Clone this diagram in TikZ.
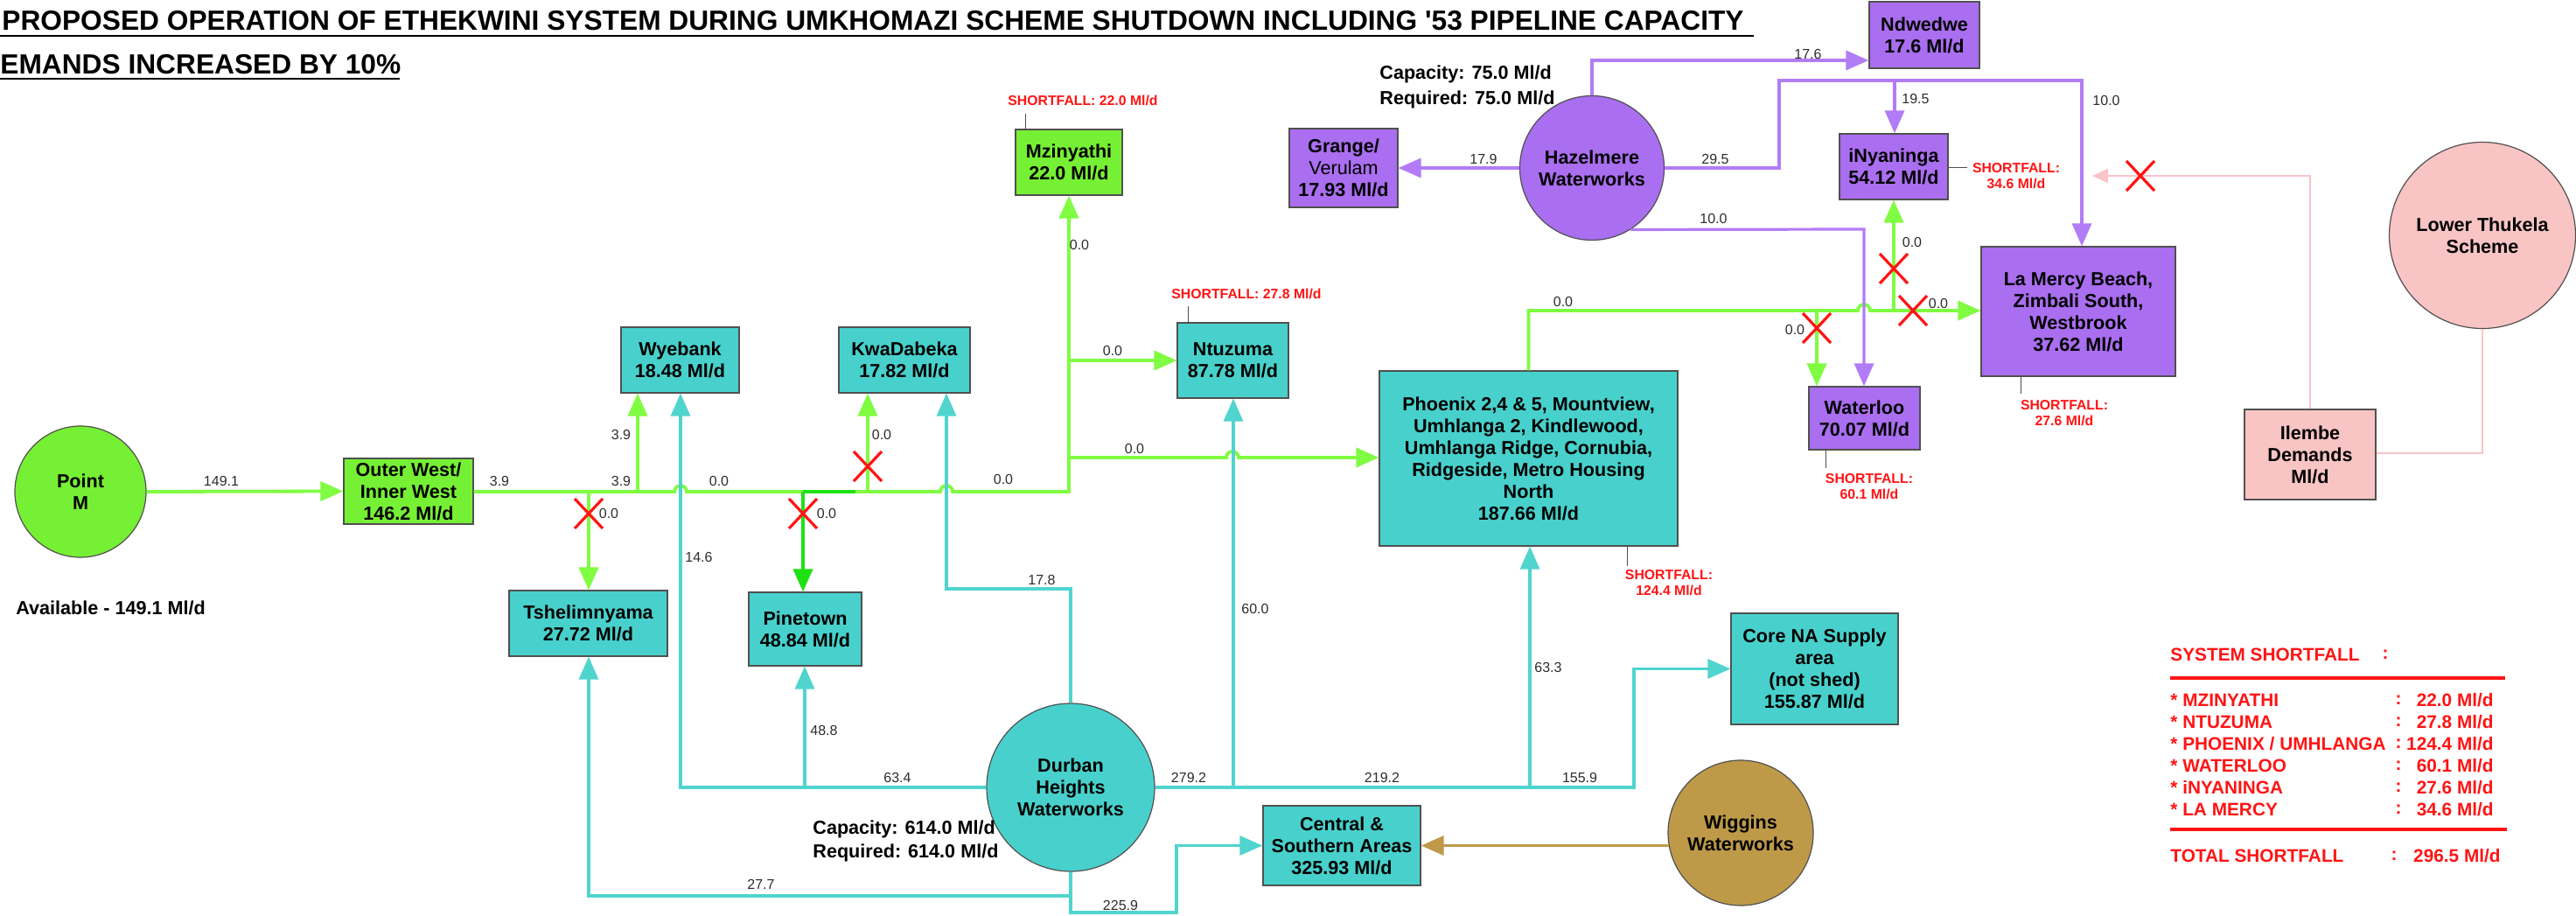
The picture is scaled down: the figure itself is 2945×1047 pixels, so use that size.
\documentclass[tikz,border=0pt]{standalone}
\usepackage{fontspec}
\setmainfont{Liberation Sans}
\usetikzlibrary{arrows.meta}

\definecolor{lgreen}{RGB}{118,240,52}
\definecolor{lgreenl}{RGB}{128,252,66}
\definecolor{dgreen}{RGB}{30,225,20}
\definecolor{tealf}{RGB}{72,209,204}
\definecolor{tealc}{RGB}{80,212,206}
\definecolor{purpf}{RGB}{170,110,240}
\definecolor{purpc}{RGB}{178,124,246}
\definecolor{pinkf}{RGB}{248,196,196}
\definecolor{pinkc}{RGB}{250,196,200}
\definecolor{goldc}{RGB}{190,154,72}
\definecolor{redc}{RGB}{255,20,20}
\definecolor{edge}{RGB}{80,80,80}
\definecolor{numc}{RGB}{45,45,45}

\newcommand\bxfont{\fontsize{10.8}{12.5}\selectfont\bfseries}
\newcommand\lblfont{\fontsize{8}{9}\selectfont}
\newcommand\sfallfont{\fontsize{7.9}{9.3}\selectfont\bfseries}
\newcommand\sysfont{\fontsize{10.4}{12.5}\selectfont\bfseries}
\newcommand\ttlfont{\fontsize{15.85}{19}\selectfont\bfseries}

\begin{document}
\begin{tikzpicture}[x=0.5pt,y=-0.5pt,
  tbox/.style={draw=edge,line width=0.6pt,inner sep=0pt,align=center,font=\bxfont},
  greenbox/.style={tbox,fill=lgreen},
  tealbox/.style={tbox,fill=tealf},
  purpbox/.style={tbox,fill=purpf},
  pinkbox/.style={tbox,fill=pinkf},
  works/.style={circle,draw=edge,line width=0.6pt,inner sep=0pt,align=center,font=\bxfont},
  lbl/.style={font=\lblfont,text=numc,inner sep=0pt},
  sfl/.style={font=\sfallfont,text=redc,inner sep=0pt,align=center},
  leader/.style={draw=edge,line width=0.5pt},
  gpipe/.style={draw=lgreenl,line width=1.9pt},
  tpipe/.style={draw=tealc,line width=1.6pt},
  ppipe/.style={draw=purpc,line width=1.6pt},
  kpipe/.style={draw=pinkc,line width=1.4pt},
  bpipe/.style={draw=goldc,line width=1.6pt},
  tip/.style={-{Triangle[length=13pt,width=11pt]}},
  smalltip/.style={-{Triangle[length=9pt,width=8pt]}},
  sysl/.style={font=\sysfont,text=redc,inner sep=0pt,anchor=west},
  sysc/.style={font=\sysfont,text=redc,inner sep=0pt},
  sysv/.style={font=\sysfont,text=redc,inner sep=0pt,anchor=east},
  nogo/.pic={\draw[redc,line width=1.6pt] (-16,-17) -- (16,17) (16,-17) -- (-16,17);}
]
\useasboundingbox (0,0) rectangle (2945,1047);
\fill[white] (0,0) rectangle (2945,1047);

% ---------- heading ----------
\node[anchor=base west,inner sep=0pt,font=\ttlfont] (title1) at (2,35)
  {PROPOSED OPERATION OF ETHEKWINI SYSTEM DURING UMKHOMAZI SCHEME SHUTDOWN INCLUDING \textquotesingle53 PIPELINE CAPACITY};
\node[anchor=base west,inner sep=0pt,font=\ttlfont] (title2) at (0,85) {EMANDS INCREASED BY 10\%};
\draw[line width=1.1pt] (0,41) -- (2005,41);
\draw[line width=1.1pt] (0,90) -- (457,90);

% ---------- sources ----------
\node[works,fill=lgreen,minimum size=75pt] (pm) at (92,562) {Point\\M};
\node[anchor=west,font=\bxfont,inner sep=0pt] (avail) at (18,695) {Available - 149.1 Ml/d};
\node[works,fill=purpf,minimum size=82.5pt] (haz) at (1820,192) {Hazelmere\\Waterworks};
\node[works,fill=tealf,minimum size=96pt] (dur) at (1224,900) {Durban\\Heights\\Waterworks};
\node[works,fill=goldc,minimum size=83pt] (wig) at (1990,952) {Wiggins\\Waterworks};
\node[works,fill=pinkf,minimum size=106.5pt] (ltk) at (2838,269) {Lower Thukela\\Scheme};

\node[anchor=west,font=\bxfont,inner sep=0pt,align=left] (hazcap) at (1577,99) {Capacity: 75.0 Ml/d\\[2pt]Required: 75.0 Ml/d};
\node[anchor=west,font=\bxfont,inner sep=0pt,align=left] (durcap) at (929,961) {Capacity: 614.0 Ml/d\\[1pt]Required: 614.0 Ml/d};

% ---------- demand areas ----------
\node[greenbox,minimum width=74pt,minimum height=37.5pt] (ow) at (467,561.5) {Outer West/\\Inner West\\146.2 Ml/d};
\node[tealbox,minimum width=67.5pt,minimum height=37.5pt] (wye) at (777.5,411.5) {Wyebank\\18.48 Ml/d};
\node[tealbox,minimum width=75pt,minimum height=37.5pt] (kwa) at (1034,411.5) {KwaDabeka\\17.82 Ml/d};
\node[tealbox,minimum width=90.5pt,minimum height=37.5pt] (tsh) at (672.5,712.5) {Tshelimnyama\\27.72 Ml/d};
\node[tealbox,minimum width=64.5pt,minimum height=42pt] (pin) at (920.5,719) {Pinetown\\48.84 Ml/d};
\node[greenbox,minimum width=61pt,minimum height=37.5pt] (mzi) at (1222,185.5) {Mzinyathi\\22.0 Ml/d};
\node[tealbox,minimum width=63.5pt,minimum height=43pt] (ntu) at (1409.5,412) {Ntuzuma\\87.78 Ml/d};
\node[tealbox,minimum width=170.5pt,minimum height=100pt] (pho) at (1747.5,524)
  {Phoenix 2,4 \& 5, Mountview,\\Umhlanga 2, Kindlewood,\\Umhlanga Ridge, Cornubia,\\Ridgeside, Metro Housing\\North\\187.66 Ml/d};
\node[purpbox,minimum width=62pt,minimum height=45pt] (gra) at (1536,192) {Grange/\\{\mdseries Verulam}\\17.93 Ml/d};
\node[purpbox,minimum width=63pt,minimum height=38pt] (ndw) at (2200,40) {Ndwedwe\\17.6 Ml/d};
\node[purpbox,minimum width=62pt,minimum height=37.5pt] (iny) at (2165,190.5) {iNyaninga\\54.12 Ml/d};
\node[purpbox,minimum width=111pt,minimum height=74pt] (lam) at (2376,356) {La Mercy Beach,\\Zimbali South,\\Westbrook\\37.62 Ml/d};
\node[purpbox,minimum width=63.5pt,minimum height=36pt] (wat) at (2131.5,478) {Waterloo\\70.07 Ml/d};
\node[pinkbox,minimum width=75pt,minimum height=51.5pt] (ile) at (2641,519.5) {Ilembe\\Demands\\Ml/d};
\node[tealbox,minimum width=95.5pt,minimum height=63.5pt] (cna) at (2074.5,764.5) {Core NA Supply\\area\\(not shed)\\155.87 Ml/d};
\node[tealbox,minimum width=90pt,minimum height=45.5pt] (cen) at (1534,966.5) {Central \&\\Southern Areas\\325.93 Ml/d};

% ---------- junctions ----------
\coordinate (jt) at (673,562);
\coordinate (jw) at (729,562);
\coordinate (jp) at (918,562);
\coordinate (jk) at (992,562);
\coordinate (jm) at (1222,562);
\coordinate (jn) at (1222,412);
\coordinate (jph) at (1222,523);
\coordinate (jwa) at (2077,355);
\coordinate (jin) at (2165,355);
\coordinate (dw) at (778,900);
\coordinate (dp) at (920,900);
\coordinate (dk1) at (1224,673);
\coordinate (dk2) at (1082,673);
\coordinate (de) at (1868,900);
\coordinate (dn) at (1410,900);
\coordinate (dph) at (1749,900);
\coordinate (ds) at (1224,1024);
\coordinate (dt) at (673,1024);
\coordinate (dc1) at (1224,1043);
\coordinate (dc2) at (1345,1043);
\coordinate (hn) at (1820,69);
\coordinate (he1) at (2034,192);
\coordinate (he2) at (2034,92);
\coordinate (he3) at (2380,92);
\coordinate (hi) at (2166,92);
\coordinate (hw) at (2131,262);
\coordinate (lt1) at (2838,518);
\coordinate (ip) at (2641,201);
\coordinate (pend) at (2392,201);

% ---------- Point M system (green) ----------
\draw[gpipe,tip] (pm.east) -- (ow.west);
\draw[gpipe,tip] (ow.east |- jm) -- (771,562) arc[start angle=180,end angle=360,radius=7]
  -- (1075,562) arc[start angle=180,end angle=360,radius=7] -- (jm) -- (mzi.south);
\draw[gpipe,tip] (jw) -- (jw |- wye.south);
\draw[gpipe,tip] (jt) -- (jt |- tsh.north);
\draw[gpipe,draw=dgreen] (jp) -- (978,562);
\draw[gpipe,draw=dgreen,tip] (jp) -- (jp |- pin.north);
\draw[gpipe,tip] (jk) -- (jk |- kwa.south);
\draw[gpipe,tip] (jn) -- (ntu.west);
\draw[gpipe,tip] (jph) -- (1402,523) arc[start angle=180,end angle=360,radius=7] -- (pho.west |- jph);
\draw[gpipe,tip] (pho.north) -- (pho.north |- jwa) -- (2124,355) arc[start angle=180,end angle=360,radius=7] -- (lam.west |- jwa);
\draw[gpipe,tip] (jwa) -- (jwa |- wat.north);
\draw[gpipe,tip] (jin) -- (jin |- iny.south);

% ---------- Durban Heights system (teal) ----------
\draw[tpipe,tip] (dur.west) -- (dw) -- (dw |- wye.south);
\draw[tpipe,tip] (dp) -- (dp |- pin.south);
\draw[tpipe,tip] (dur.north) -- (dk1) -- (dk2) -- (dk2 |- kwa.south);
\draw[tpipe,tip] (dur.east) -- (de) -- (de |- cna.west) -- (cna.west);
\draw[tpipe,tip] (dn) -- (dn |- ntu.south);
\draw[tpipe,tip] (dph) -- (dph |- pho.south);
\draw[tpipe,tip] (dur.south) -- (ds) -- (dt) -- (dt |- tsh.south);
\draw[tpipe,tip] (ds) -- (dc1) -- (dc2) -- (dc2 |- cen.west) -- (cen.west);

% ---------- Hazelmere system (purple) ----------
\draw[ppipe,tip] (haz.west) -- (gra.east);
\draw[ppipe,tip] (haz.north) -- (hn) -- (hn -| ndw.west);
\draw[ppipe,tip] (haz.east) -- (he1) -- (he2) -- (he3) -- (he3 |- lam.north);
\draw[ppipe,tip] (hi) -- (hi |- iny.north);
\draw[ppipe,tip] (haz.-58) -- (hw) -- (hw |- wat.north);

% ---------- Lower Thukela (pink) ----------
\draw[kpipe] (ltk.south) -- (lt1) -- (ile.east |- lt1);
\draw[kpipe,smalltip] (ile.north) -- (ip) -- (pend);

% ---------- Wiggins ----------
\draw[bpipe,tip] (wig.190) -- (wig.190 -| cen.east);

% ---------- closed valves ----------
\pic at (673,587) {nogo};
\pic at (918,587) {nogo};
\pic at (992,533) {nogo};
\pic at (2077,375) {nogo};
\pic at (2165,307) {nogo};
\pic at (2187,355) {nogo};
\pic at (2447,201) {nogo};

% ---------- flow values ----------
\node[lbl] (f1) at (253,550) {149.1};
\node[lbl] (f2) at (571,550) {3.9};
\node[lbl] (f3) at (710,550) {3.9};
\node[lbl] (f4) at (710,497) {3.9};
\node[lbl] (f5) at (822,550) {0.0};
\node[lbl] (f6) at (696,587) {0.0};
\node[lbl] (f7) at (945,587) {0.0};
\node[lbl] (f8) at (799,637) {14.6};
\node[lbl] (f9) at (1008,497) {0.0};
\node[lbl] (f10) at (1147,548) {0.0};
\node[lbl] (f11) at (1272,401) {0.0};
\node[lbl] (f12) at (1297,513) {0.0};
\node[lbl] (f13) at (1191,663) {17.8};
\node[lbl] (f14) at (1234,280) {0.0};
\node[lbl] (f15) at (1787,345) {0.0};
\node[lbl] (f16) at (1696,182) {17.9};
\node[lbl] (f17) at (1961,182) {29.5};
\node[lbl] (f18) at (1959,250) {10.0};
\node[lbl] (f19) at (2067,62) {17.6};
\node[lbl] (f20) at (2190,113) {19.5};
\node[lbl] (f21) at (2408,115) {10.0};
\node[lbl] (f22) at (2186,277) {0.0};
\node[lbl] (f23) at (2216,347) {0.0};
\node[lbl] (f24) at (2052,377) {0.0};
\node[lbl] (f25) at (942,835) {48.8};
\node[lbl] (f26) at (1026,889) {63.4};
\node[lbl] (f27) at (1359,889) {279.2};
\node[lbl] (f28) at (1435,696) {60.0};
\node[lbl] (f29) at (1580,889) {219.2};
\node[lbl] (f30) at (1770,763) {63.3};
\node[lbl] (f31) at (1806,889) {155.9};
\node[lbl] (f32) at (1281,1035) {225.9};
\node[lbl] (f33) at (870,1011) {27.7};

% ---------- shortfall notes ----------
\node[sfl] (sfm) at (1238,115) {SHORTFALL: 22.0 Ml/d};
\coordinate (lm) at (1172,130);
\draw[leader] (lm) -- (lm |- mzi.north);
\node[sfl] (sfn) at (1425,336) {SHORTFALL: 27.8 Ml/d};
\coordinate (ln) at (1358,350);
\draw[leader] (ln) -- (ln |- ntu.north);
\node[sfl] (sfp) at (1908,666) {SHORTFALL:\\124.4 Ml/d};
\coordinate (lph) at (1860,647);
\draw[leader] (lph) -- (lph |- pho.south);
\node[sfl] (sfw) at (2137,556) {SHORTFALL:\\60.1 Ml/d};
\coordinate (lw) at (2087,535);
\draw[leader] (lw) -- (lw |- wat.south);
\node[sfl] (sfl1) at (2360,472) {SHORTFALL:\\27.6 Ml/d};
\coordinate (ll) at (2310,450);
\draw[leader] (ll) -- (ll |- lam.south);
\node[sfl] (sfi) at (2305,201) {SHORTFALL:\\34.6 Ml/d};
\coordinate (li) at (2249,192);
\draw[leader] (iny.east |- li) -- (li);

% ---------- system shortfall summary ----------
\node[sysl] (s0) at (2481,748) {SYSTEM SHORTFALL};
\node[sysc] (s0c) at (2727,748) {:};
\draw[redc,line width=2pt] (2481,775) -- (2864,775);
\node[sysl] (s1) at (2481,800) {* MZINYATHI};
\node[sysc] (s1c) at (2742,800) {:};
\node[sysv] (s1v) at (2851,800) {22.0 Ml/d};
\node[sysl] (s2) at (2481,825) {* NTUZUMA};
\node[sysc] (s2c) at (2742,825) {:};
\node[sysv] (s2v) at (2851,825) {27.8 Ml/d};
\node[sysl] (s3) at (2481,850) {* PHOENIX / UMHLANGA};
\node[sysc] (s3c) at (2742,850) {:};
\node[sysv] (s3v) at (2851,850) {124.4 Ml/d};
\node[sysl] (s4) at (2481,875) {* WATERLOO};
\node[sysc] (s4c) at (2742,875) {:};
\node[sysv] (s4v) at (2851,875) {60.1 Ml/d};
\node[sysl] (s5) at (2481,900) {* iNYANINGA};
\node[sysc] (s5c) at (2742,900) {:};
\node[sysv] (s5v) at (2851,900) {27.6 Ml/d};
\node[sysl] (s6) at (2481,925) {* LA MERCY};
\node[sysc] (s6c) at (2742,925) {:};
\node[sysv] (s6v) at (2851,925) {34.6 Ml/d};
\draw[redc,line width=2pt] (2481,948) -- (2866,948);
\node[sysl] (st) at (2481,978) {TOTAL SHORTFALL};
\node[sysc] (stc) at (2737,978) {:};
\node[sysv] (stv) at (2859,978) {296.5 Ml/d};
\end{tikzpicture}
\end{document}
